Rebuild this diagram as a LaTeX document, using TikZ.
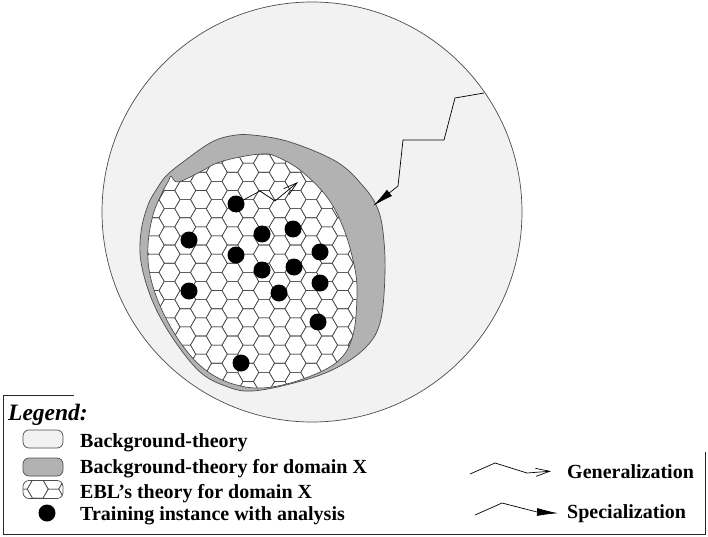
\documentclass[tikz,border=0pt]{standalone}
\usepackage{fontspec}
\setmainfont{Liberation Serif}
\usetikzlibrary{arrows.meta}

\definecolor{bgtheory}{gray}{0.95}
\definecolor{domaintheory}{gray}{0.70}

\tikzset{
  outline/.style={draw=black!70, line width=0.7pt},
  hexline/.style={draw=black!70, line width=0.6pt},
  instance/.style={circle, fill=black, minimum size=17pt, inner sep=0pt},
  icon/.style={outline, rounded corners=6pt, minimum width=40pt, minimum height=18pt, inner sep=0pt},
  legtext/.style={font=\fontsize{20}{24}\selectfont\bfseries, anchor=base west, inner sep=0pt},
  genarrow/.style={black, line width=0.7pt, -{Straight Barb[length=14pt, width=8pt]}},
  specarrow/.style={black, line width=0.7pt, -{Latex[length=21pt, width=8pt]}}
}

\newcommand{\hexcell}[2]{%
  \draw[hexline] (#1,#2) +(0:10.5) -- +(60:10.5) -- +(120:10.5) -- +(180:10.5)
    -- +(240:10.5) -- +(300:10.5) -- cycle;}

\def\domainx{plot[smooth cycle, tension=0.6] coordinates {(167,175) (183,162) (210,143)
  (230,136) (252,135) (290,142) (337,162) (363,186) (377,207) (383,232) (385,273)
  (380,323) (363,350) (330,371) (290,384) (252,391) (228,387) (200,372) (172,337)
  (152,300) (141,262) (141,232) (148,205) (158,187)}}
\def\ebltheory{plot[smooth cycle, tension=0.6] coordinates {(171,176) (178,182) (200,172)
  (217,163) (240,157) (262,154) (275,156) (300,170) (327,197) (343,227) (353,260)
  (357,290) (353,335) (337,362) (300,380) (262,388) (230,383) (203,368) (180,342)
  (161,308) (150,275) (148,245) (153,215) (162,193) (169,180)}}

\begin{document}
\begin{tikzpicture}[x=1pt, y=-1pt]
\useasboundingbox (0,0) rectangle (708,537);

% Legend frame
\draw[outline, black!85] (74,395) -- (3,395) -- (3,534) -- (705,534) -- (705,452);

% Background theory
\draw[outline, fill=bgtheory] (312,212) circle (210);

% Background theory for domain X
\draw[outline, fill=domaintheory] \domainx;

% EBL's theory for domain X
\fill[white] \ebltheory;
\begin{scope}
  \clip \ebltheory;
  \foreach \i in {0,...,16} {
    \foreach \j in {0,...,14} {
      \pgfmathsetmacro{\cx}{138+15.75*\i}
      \pgfmathsetmacro{\cy}{145+18.19*\j+9.09*mod(\i,2)}
      \hexcell{\cx}{\cy}
    }
  }
\end{scope}
\draw[outline] \ebltheory;

% Training instances
\foreach \n/\x/\y in {1/236/204, 2/189/240, 3/262/234, 4/293/229, 5/320/252,
    6/236/255, 7/262/270, 8/294/267, 9/189/291, 10/279/293, 11/320/283,
    12/318/322, 13/241/363}
  \node[instance] (d\n) at (\x,\y) {};

% Generalization and specialization
\coordinate (gentip) at (298,182);
\draw[genarrow] (d1) -- (260,191) -- (275,201) -- (gentip);
\coordinate (specstart) at (484,93);
\coordinate (spectip) at (373,206);
\draw[specarrow] (specstart) -- (455,98) -- (444,140) -- (403,140) -- (398,186) -- (spectip);

% Legend
\node[legtext, font=\fontsize{23.5}{28}\selectfont\bfseries\itshape] (legend) at (8,420) {Legend:};
\node[icon, fill=bgtheory] (ibg) at (43,439) {};
\node[legtext] (tbg) at (80,447) {Background-theory};
\node[icon, fill=domaintheory] (idom) at (43,467) {};
\node[legtext] (tdom) at (80,473) {Background-theory for domain X};
\begin{scope}
  \clip[rounded corners=6pt] (23,480.5) rectangle (63,498.5);
  \fill[white] (23,480.5) rectangle (63,498.5);
  \foreach \i in {0,...,3} {
    \foreach \j in {0,...,2} {
      \pgfmathsetmacro{\cx}{22+15.75*\i}
      \pgfmathsetmacro{\cy}{480+18.19*\j+9.09*mod(\i,2)}
      \hexcell{\cx}{\cy}
    }
  }
\end{scope}
\node[icon] (iebl) at (43,489.5) {};
\node[legtext] (tebl) at (80,498) {EBL's theory for domain X};
\node[instance] (idot) at (47,513) {};
\node[legtext] (tdot) at (80,520) {Training instance with analysis};

\node[legtext] (tgen) at (567,478) {Generalization};
\coordinate (gen0) at (470,474);
\draw[genarrow] (gen0) -- (495,463) -- (527,473) -- ([xshift=-16pt]tgen.west);
\node[legtext] (tspec) at (567,518) {Specialization};
\coordinate (spec0) at (475,515);
\draw[specarrow] (spec0) -- (502,503) -- (537,512) -- ([xshift=-9pt]tspec.west);
\end{tikzpicture}
\end{document}
